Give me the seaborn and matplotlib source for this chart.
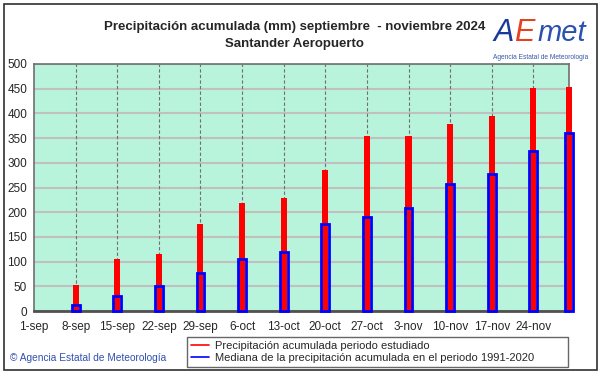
import pandas as pd
import matplotlib
matplotlib.use('Agg')
import matplotlib.pyplot as plt
import seaborn as sns

# datos
fechas = ['2024-09-08', '2024-09-15', '2024-09-22', '2024-09-29', '2024-10-06',
          '2024-10-13', '2024-10-20', '2024-10-27', '2024-11-03', '2024-11-10',
          '2024-11-17', '2024-11-24', '2024-11-30']
prec_acum = [52, 105, 115, 176, 218, 229, 285, 355, 355, 379, 395, 451, 454]
mediana = [13, 30, 50, 76, 105, 120, 176, 190, 208, 257, 277, 324, 360]

etiquetas_x = ['1-sep', '8-sep', '15-sep', '22-sep', '29-sep', '6-oct', '13-oct',
               '20-oct', '27-oct', '3-nov', '10-nov', '17-nov', '24-nov']
inicio = '2024-09-01'
fin = '2024-11-30'
ticks_y = [0, 50, 100, 150, 200, 250, 300, 350, 400, 450, 500]

sns.set_style('white')
plt.rcParams['font.family'] = ['Liberation Sans', 'DejaVu Sans']

t0 = pd.Timestamp(inicio)
df = pd.DataFrame({'dia': (pd.to_datetime(fechas) - t0).days,
                   'prec': prec_acum, 'med': mediana})
dia_fin = (pd.Timestamp(fin) - t0).days
ticks_x = (pd.date_range(inicio, periods=len(etiquetas_x), freq='7D') - t0).days

fig = plt.figure(figsize=(6.01, 3.74), dpi=100)
ax = fig.add_axes([0.0566, 0.1684, 0.8902, 0.6605])
ax.set_facecolor('#b8f3dc')

sns.barplot(data=df, x='dia', y='prec', native_scale=True, color='#ff0000',
            saturation=1, width=0.17, linewidth=0, ax=ax, zorder=3)
sns.barplot(data=df, x='dia', y='med', native_scale=True, color='#0000ff',
            saturation=1, width=0.22, fill=False, linewidth=2, ax=ax, zorder=4)
for p in ax.patches:
    p.set_clip_on(False)

ax.set_xlim(0, dia_fin)
ax.set_ylim(0, 500)
ax.set_xticks(ticks_x)
ax.set_xticklabels(etiquetas_x, fontsize=8.5)
ax.set_yticks(ticks_y)
ax.set_yticklabels([str(v) for v in ticks_y], fontsize=8.5)
ax.tick_params(axis='y', length=0, pad=5)
ax.tick_params(axis='x', length=0, pad=7)
ax.set_xlabel('')
ax.set_ylabel('')
ax.yaxis.grid(True, color='#c0c0c0', linewidth=1.5, zorder=1)
for x in ticks_x[1:]:
    ax.axvline(x, color='#707070', linewidth=0.8, linestyle=(0, (3, 2)), zorder=2)
ax.set_axisbelow(True)
for s in ax.spines.values():
    s.set_color('#707070')
    s.set_linewidth(1.2)
ax.spines['bottom'].set_color('#505050')
ax.spines['bottom'].set_linewidth(2)

fig.text(0.49, 0.927, 'Precipitación acumulada (mm) septiembre  - noviembre 2024',
         ha='center', va='center', fontsize=9.5, fontweight='bold')
fig.text(0.49, 0.883, 'Santander Aeropuerto', ha='center', va='center',
         fontsize=9.5, fontweight='bold')

# logo aproximado
fig.text(0.838, 0.912, 'A', color='#1a3a9a', fontsize=22, style='italic', ha='center', va='center')
fig.text(0.873, 0.912, 'E', color='#e8401c', fontsize=22, style='italic', ha='center', va='center')
fig.text(0.935, 0.912, 'met', color='#2a50b0', fontsize=21, style='italic', ha='center', va='center')
fig.text(0.9, 0.845, 'Agencia Estatal de Meteorología', color='#3a58a8', fontsize=4.8,
         ha='center', va='center')

fig.text(0.017, 0.035, '© Agencia Estatal de Meteorología', color='#3050b0', fontsize=7.3)

h1, = ax.plot([], [], color='#ff0000', linewidth=1.2)
h2, = ax.plot([], [], color='#0000ff', linewidth=1.2)
fig.legend([h1, h2], ['Precipitación acumulada periodo estudiado',
                      'Mediana de la precipitación acumulada en el periodo 1991-2020'],
           loc='lower left', bbox_to_anchor=(0.311, 0.019, 0.634, 0.08), mode='expand',
           fontsize=8, frameon=True, fancybox=False, edgecolor='#404040',
           borderpad=0.35, labelspacing=0.15, handlelength=1.6, handletextpad=0.6,
           borderaxespad=0)

fig.patches.append(plt.Rectangle((0.007, 0.011), 0.987, 0.979, transform=fig.transFigure,
                                 fill=False, edgecolor='#303030', linewidth=1.2))

fig.savefig('out.png', dpi=100)
